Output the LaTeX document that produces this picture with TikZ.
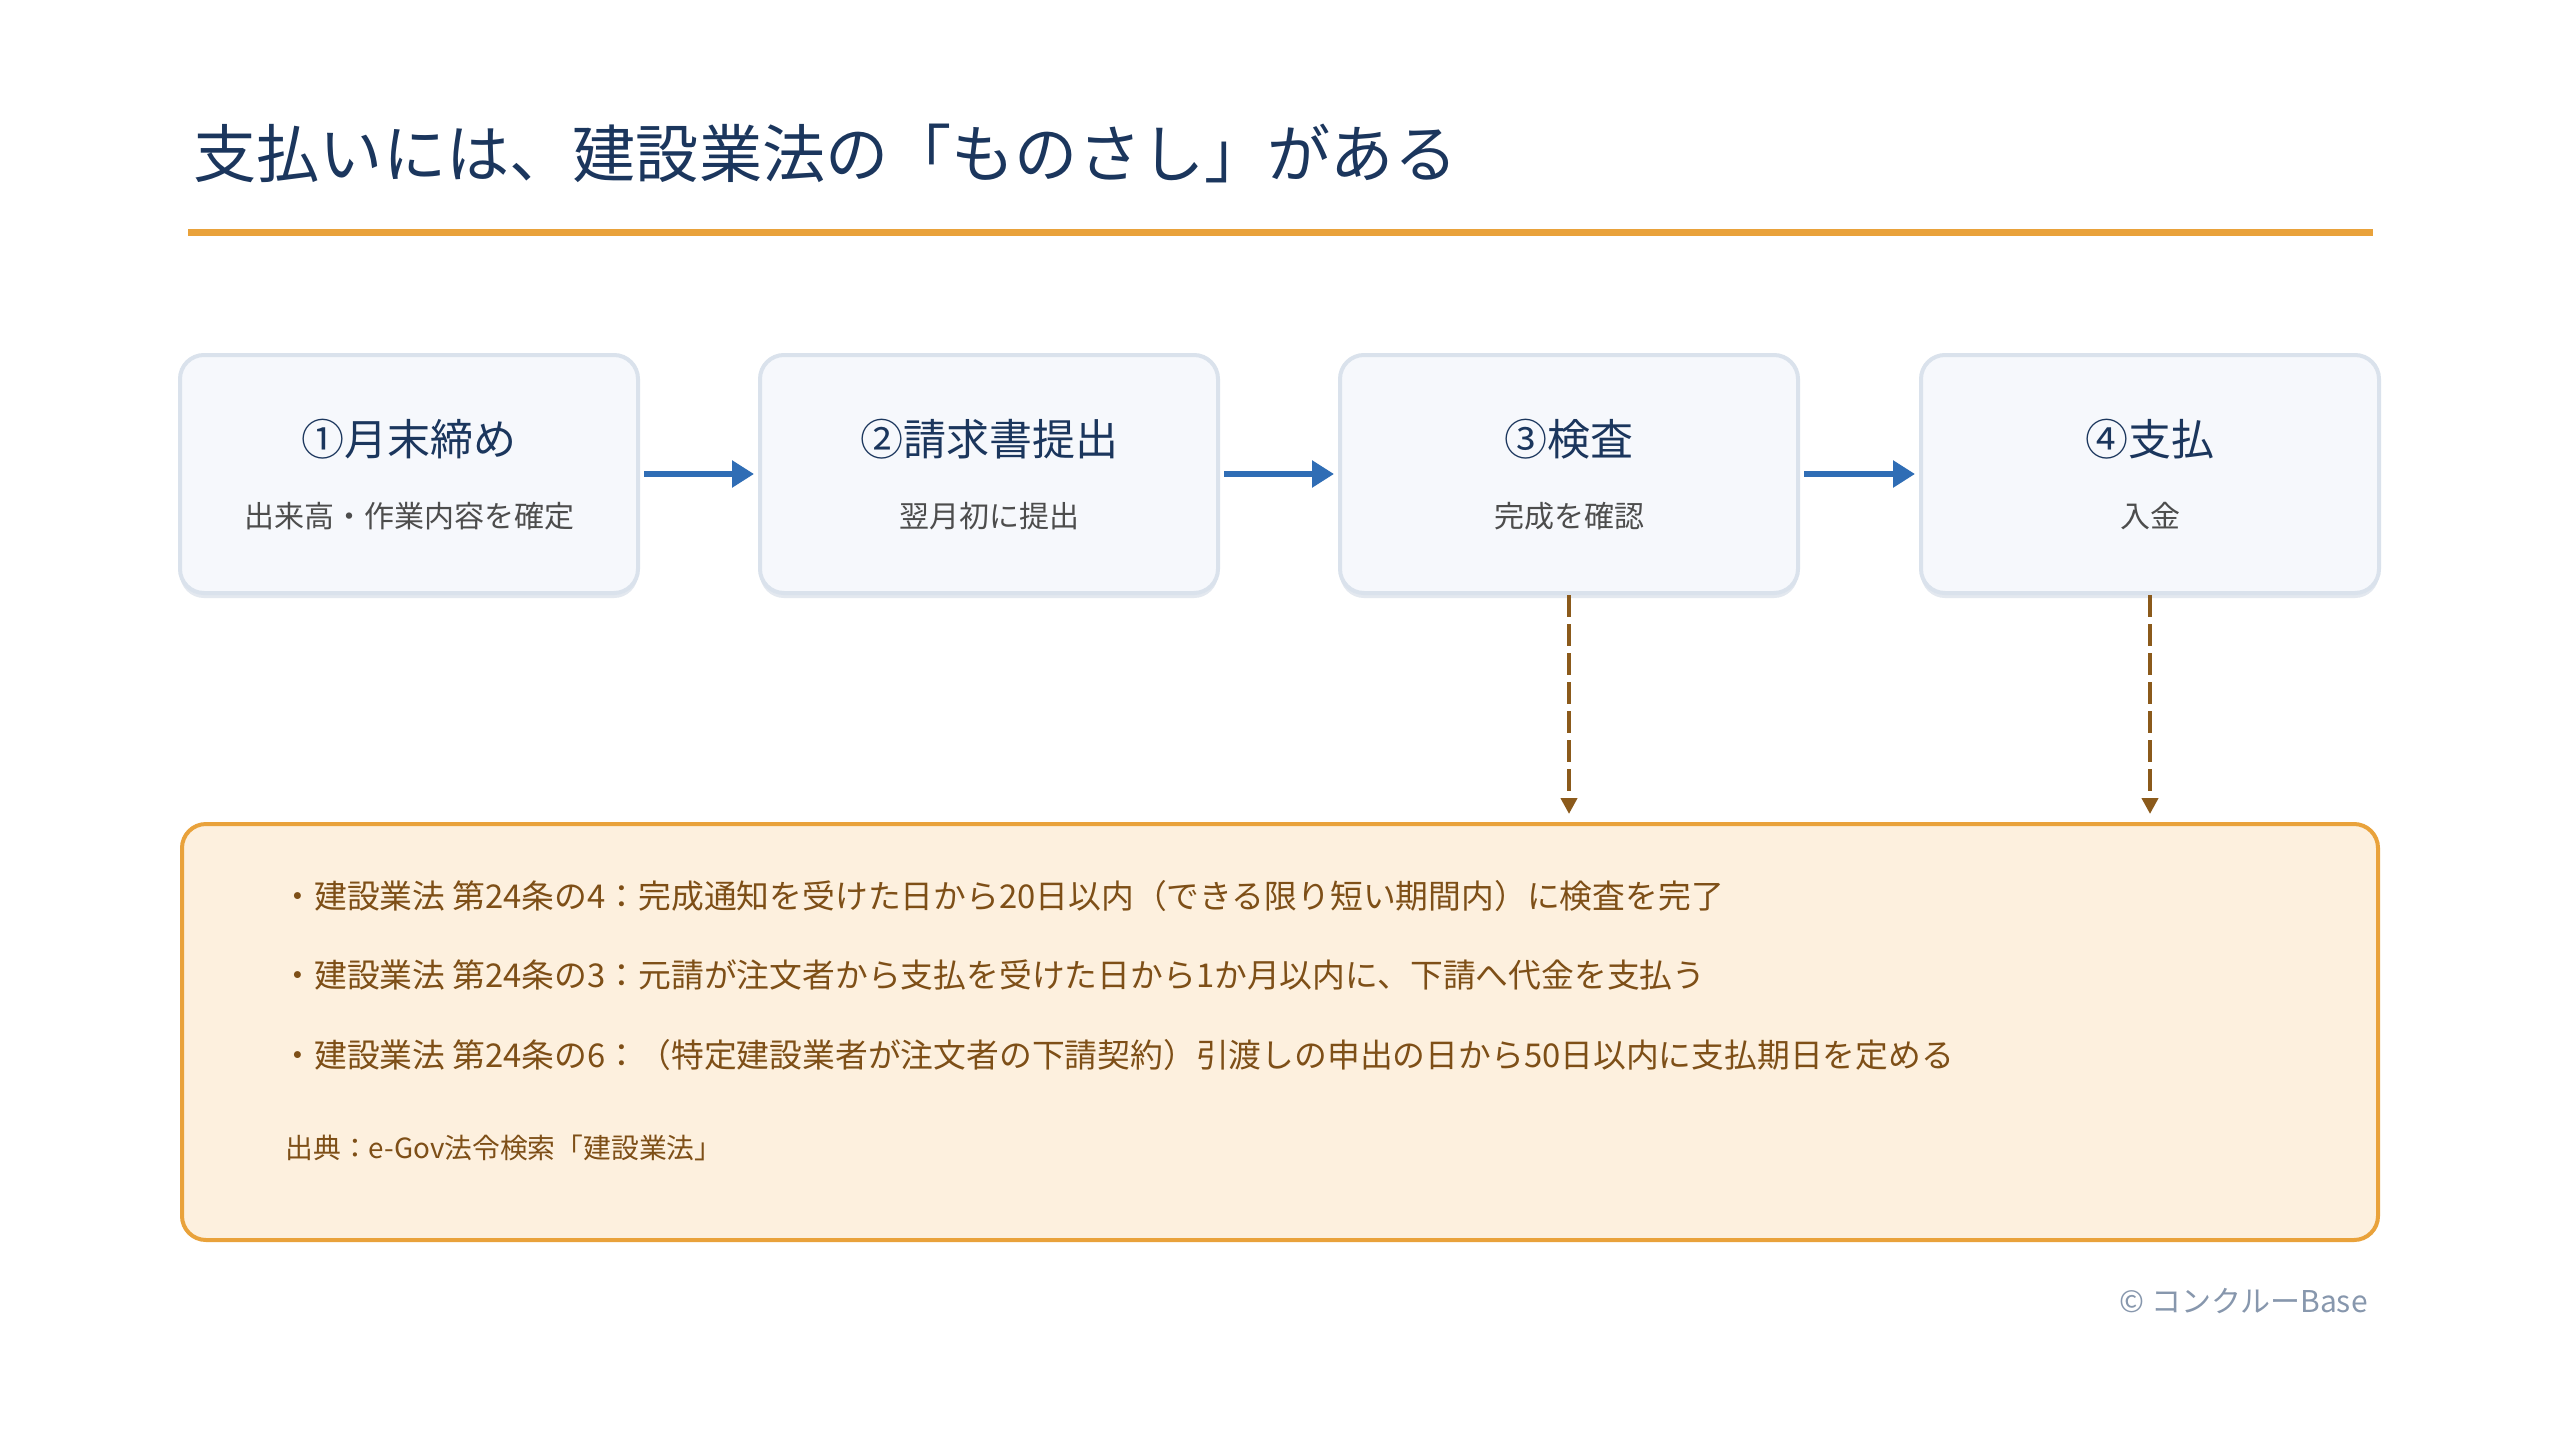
\documentclass[tikz,border=0pt]{standalone}
\usepackage{fontspec}
\setmainfont{Noto Sans CJK JP}
\usetikzlibrary{arrows.meta}
\definecolor{titlecol}{HTML}{1B365D}
\definecolor{accent}{HTML}{E9A23B}
\definecolor{boxfill}{HTML}{F6F8FC}
\definecolor{boxline}{HTML}{DAE2EC}
\definecolor{boxshadow}{HTML}{E3E8EF}
\definecolor{subcol}{HTML}{4D4D4D}
\definecolor{flowblue}{HTML}{2F6DB5}
\definecolor{brown}{HTML}{8B5A1B}
\definecolor{notefill}{HTML}{FDF0DE}
\definecolor{notetext}{HTML}{7E4F17}
\definecolor{copycol}{HTML}{8797AD}
\tikzset{
  stepbox/.style={draw=boxline, line width=2pt, fill=boxfill, rounded corners=12pt,
    minimum width=229pt, minimum height=119pt, inner sep=0pt},
  steptitle/.style={text=titlecol, inner sep=0pt, font=\fontsize{21.5pt}{26pt}\selectfont},
  stepsub/.style={text=subcol, inner sep=0pt, font=\fontsize{15pt}{18pt}\selectfont},
  flowarrow/.style={draw=flowblue, line width=3pt, -{Triangle[length=11pt,width=13pt]},
    shorten <=2pt, shorten >=2pt},
  refarrow/.style={draw=brown, line width=2pt, dash pattern=on 11pt off 3.5pt,
    -{Triangle[length=8pt,width=8pt]}, shorten >=4pt},
  notebox/.style={draw=accent, line width=2pt, fill=notefill, rounded corners=12pt,
    minimum width=1098pt, minimum height=208pt, inner sep=0pt},
  noteline/.style={anchor=west, text=notetext, inner sep=0pt, font=\fontsize{16.4pt}{19pt}\selectfont},
}
\begin{document}
\begin{tikzpicture}[x=0.5pt, y=-0.5pt]
\path[fill=white, use as bounding box] (0,0) rectangle (2560,1440);

% title
\node[anchor=west, text=titlecol, inner sep=0pt, font=\fontsize{31.6pt}{38pt}\selectfont] (title) at (193,153) {支払いには、建設業法の「ものさし」がある};
\draw[accent, line width=3.5pt] (188,232) coordinate (rulel) -- (2373,232) coordinate (ruler);

% step boxes (with slight shadow)
\foreach \cx in {409,989,1569,2150} {
  \fill[boxshadow, rounded corners=12pt] (\cx-229,358) rectangle (\cx+229,598);
}
\node[stepbox] (b1) at (409,474) {};
\node[stepbox] (b2) at (989,474) {};
\node[stepbox] (b3) at (1569,474) {};
\node[stepbox] (b4) at (2150,474) {};

\node[steptitle] (t1) at (409,439) {①月末締め};
\node[stepsub]   (s1) at (409,516) {出来高・作業内容を確定};
\node[steptitle] (t2) at (989,439) {②請求書提出};
\node[stepsub]   (s2) at (989,516) {翌月初に提出};
\node[steptitle] (t3) at (1569,439) {③検査};
\node[stepsub]   (s3) at (1569,516) {完成を確認};
\node[steptitle] (t4) at (2150,439) {④支払};
\node[stepsub]   (s4) at (2150,516) {入金};

\draw[flowarrow] (b1.east) -- (b2.west);
\draw[flowarrow] (b2.east) -- (b3.west);
\draw[flowarrow] (b3.east) -- (b4.west);

% note box
\node[notebox] (note) at (1280,1032) {};
\draw[refarrow] (b3.south) -- (b3.south |- note.north);
\draw[refarrow] (b4.south) -- (b4.south |- note.north);

\node[noteline] (n1) at (281,896) {・建設業法 第24条の4：完成通知を受けた日から20日以内（できる限り短い期間内）に検査を完了};
\node[noteline] (n2) at (281,975) {・建設業法 第24条の3：元請が注文者から支払を受けた日から1か月以内に、下請へ代金を支払う};
\node[noteline] (n3) at (281,1055) {・建設業法 第24条の6：（特定建設業者が注文者の下請契約）引渡しの申出の日から50日以内に支払期日を定める};
\node[noteline, font=\fontsize{13.9pt}{16pt}\selectfont] (src) at (285,1148) {出典：e-Gov法令検索「建設業法」};

% copyright
\node[anchor=east, text=copycol, inner sep=0pt, font=\fontsize{15pt}{18pt}\selectfont] (copy) at (2368,1301) {© コンクルーBase};
\end{tikzpicture}
\end{document}
